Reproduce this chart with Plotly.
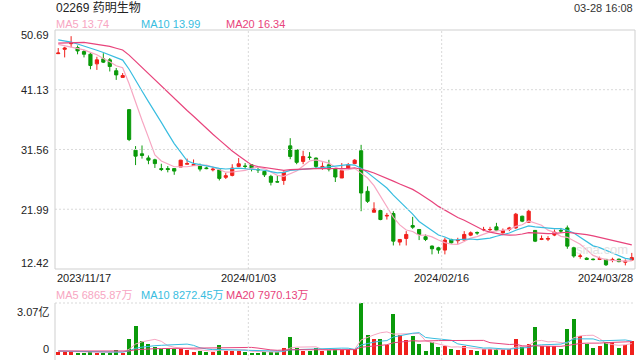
import plotly.graph_objects as go

# ---------------- data ----------------
title_text = "02269 药明生物"
time_text = "03-28 16:08"
date_labels = ["2023/11/17", "2024/01/03", "2024/02/16", "2024/03/28"]
date_label_idx = [0, 29.5, 59.5, 89]
price_ticks = [50.69, 41.13, 31.56, 21.99, 12.42]
vol_max = 30700  # 万 = 3.07亿
vol_tick_labels = ["3.07亿", "0"]
ma_price_labels = ["MA5 13.74", "MA10 13.99", "MA20 16.34"]
ma_vol_labels = ["MA5 6865.87万", "MA10 8272.45万", "MA20 7970.13万"]

# closes/volumes before the first visible day (warm-up for MA lines)
prior_close = [47.5, 47.0, 46.8, 47.2, 47.9, 48.5, 48.8, 49.0, 49.2, 49.1,
               49.6, 50.2, 50.4, 49.8, 49.0, 48.9, 49.2, 48.6, 48.3]
prior_volume = [2600, 2200, 2400, 2800, 2100, 2300, 2500, 2400, 2200, 2600,
                2300, 2500, 2400, 2200, 2700, 2300, 2400, 2100, 2500]

open_ = [46.9, 47.6, 48.5, 47.88, 47.24, 46.81, 45.27, 46.07, 45.91, 44.16,
         43.1, 37.94, 31.45, 30.87, 30.2, 29.9, 28.5, 28.5, 28.5, 28.74,
         29.2, 29.0, 28.9, 28.6, 28.3, 28.3, 27.1, 27.41, 28.85, 28.9,
         29.1, 28.35, 28.05, 27.25, 26.4, 26.6, 32.14, 31.5, 29.65, 30.35,
         30.18, 28.6, 29.1, 28.42, 26.99, 28.6, 29.3, 31.35, 24.86, 21.51,
         21.78, 20.9, 21.3, 16.73, 17.31, 19.38, 18.75, 17.58, 16.09, 15.82,
         15.45, 17.15, 16.95, 17.05, 17.84, 18.25, 18.7, 18.7, 19.17, 18.2,
         18.75, 19.0, 20.87, 19.9, 18.6, 17.15, 17.2, 17.85, 18.6, 19.0,
         15.82, 14.45, 14.15, 14.0, 13.96, 13.96, 13.8, 14.0, 13.5, 13.85]
high = [47.8, 48.0, 49.7, 48.2, 47.5, 47.0, 46.4, 46.97, 46.2, 44.6,
        43.8, 38.0, 32.1, 32.2, 30.6, 30.07, 29.27, 28.9, 28.5, 29.9,
        30.1, 29.96, 29.3, 28.8, 28.7, 28.42, 27.8, 29.2, 30.18, 29.38,
        29.2, 28.7, 28.15, 27.5, 27.36, 28.05, 33.37, 31.6, 31.35, 31.13,
        30.28, 29.5, 29.9, 28.58, 29.38, 29.4, 30.0, 32.3, 25.66, 23.1,
        21.94, 21.4, 21.67, 17.15, 18.48, 20.77, 18.75, 17.95, 16.19, 15.98,
        17.42, 17.26, 17.42, 18.48, 18.43, 18.43, 19.17, 19.17, 19.81, 18.9,
        19.17, 21.4, 20.95, 21.94, 18.64, 17.79, 17.68, 18.75, 19.0, 19.38,
        15.98, 14.92, 14.3, 14.1, 14.39, 13.96, 14.23, 14.07, 13.96, 15.0]
low = [46.9, 46.3, 47.9, 46.8, 46.3, 44.4, 44.3, 45.4, 44.05, 42.7,
       43.1, 32.9, 29.06, 30.1, 29.2, 28.6, 28.1, 27.9, 27.5, 28.74,
       29.2, 29.0, 28.05, 28.4, 28.05, 26.6, 26.83, 27.25, 28.74, 28.42,
       28.05, 27.8, 27.15, 25.8, 26.3, 25.9, 30.0, 29.2, 29.2, 29.9,
       28.42, 28.3, 28.05, 26.35, 26.99, 28.4, 29.2, 21.67, 23.0, 21.51,
       20.23, 20.34, 16.19, 16.19, 16.19, 18.85, 17.05, 16.89, 14.76, 14.87,
       14.76, 16.51, 16.46, 16.99, 17.68, 17.9, 18.48, 18.48, 18.48, 18.1,
       18.48, 18.85, 19.92, 19.85, 16.73, 17.05, 16.89, 17.68, 18.2, 15.66,
       14.23, 14.07, 13.85, 13.8, 13.85, 12.9, 13.5, 13.5, 13.0, 13.85]
close = [47.0, 47.8, 48.6, 47.34, 46.81, 45.0, 45.91, 45.54, 44.85, 43.5,
         43.4, 33.15, 30.49, 30.6, 29.85, 29.3, 28.35, 28.35, 28.1, 29.85,
         29.3, 29.15, 28.42, 28.5, 28.4, 26.93, 27.36, 28.58, 29.27, 28.85,
         28.6, 28.3, 27.5, 26.3, 26.35, 27.9, 30.44, 29.5, 30.44, 30.28,
         28.85, 28.85, 28.42, 27.15, 28.16, 29.1, 29.85, 24.59, 23.26, 22.04,
         20.34, 21.0, 16.88, 17.15, 17.95, 19.12, 17.95, 17.15, 15.66, 15.45,
         17.05, 16.62, 17.05, 17.95, 18.21, 18.2, 18.75, 18.75, 18.64, 18.6,
         19.0, 21.2, 20.08, 21.67, 16.88, 17.26, 17.3, 18.32, 18.5, 16.08,
         14.5, 14.5, 13.96, 13.93, 14.07, 13.1, 13.95, 13.6, 13.65, 14.25]
volume = [1980, 1980, 1980, 1390, 1390, 1580, 1390, 1390, 1580, 2970,
          1390, 9510, 16840, 8320, 6540, 4950, 3760, 3960, 3760, 3760,
          2970, 1980, 2380, 1980, 1980, 5940, 2570, 2570, 2570, 1980,
          1390, 1390, 1780, 1980, 1980, 3960, 10900, 4360, 2380, 2380,
          4160, 2630, 3030, 3430, 3430, 3430, 3430, 30700, 12100, 9700,
          9700, 6060, 24200, 12100, 9090, 11500, 6670, 2420, 7470, 4850,
          5050, 3640, 3030, 5450, 3030, 2420, 3430, 3430, 3430, 3430,
          3430, 9700, 4650, 6670, 16560, 5450, 5450, 5450, 3640, 15150,
          21200, 11100, 6670, 4240, 5050, 7470, 7470, 4240, 6060, 8480]

# ---------------- styling ----------------
RED = "#f0201c"
GREEN = "#0a9a0a"
C_MA5 = "#f7a6c2"
C_MA10 = "#38bde0"
C_MA20 = "#e8447c"
FONT = "Arial, Liberation Sans, Noto Sans CJK SC, sans-serif"

W, H = 640, 360
L, R = 55, 635
MAIN_T, MAIN_B = 30, 269
VOL_T, VOL_B = 303, 355


def px(x, y):
    return x / W, 1 - y / H


def moving_avg(prior, vals, n):
    full = list(prior) + list(vals)
    off = len(prior)
    out = []
    for i in range(len(vals)):
        j = off + i
        window = full[max(0, j - n + 1): j + 1]
        out.append(sum(window) / len(window))
    return out


idx = list(range(len(close)))
ma5 = moving_avg(prior_close, close, 5)
ma10 = moving_avg(prior_close, close, 10)
ma20 = moving_avg(prior_close, close, 20)
vma5 = moving_avg(prior_volume, volume, 5)
vma10 = moving_avg(prior_volume, volume, 10)
vma20 = moving_avg(prior_volume, volume, 20)
vol_colors = [RED if c >= o else GREEN for o, c in zip(open_, close)]

fig = go.Figure()

fig.add_trace(go.Candlestick(
    x=idx, open=open_, high=high, low=low, close=close,
    increasing=dict(line=dict(color=RED, width=1), fillcolor=RED),
    decreasing=dict(line=dict(color=GREEN, width=1), fillcolor=GREEN),
    whiskerwidth=0, xaxis="x", yaxis="y", showlegend=False,
))
for vals, col in [(ma5, C_MA5), (ma10, C_MA10), (ma20, C_MA20)]:
    fig.add_trace(go.Scatter(x=idx, y=vals, mode="lines",
                             line=dict(color=col, width=1.2),
                             xaxis="x", yaxis="y", showlegend=False,
                             hoverinfo="skip"))

fig.add_trace(go.Bar(x=idx, y=volume, marker=dict(color=vol_colors, line=dict(width=0)),
                     width=0.62, xaxis="x2", yaxis="y2", showlegend=False))
for vals, col in [(vma5, C_MA5), (vma10, C_MA10), (vma20, C_MA20)]:
    fig.add_trace(go.Scatter(x=idx, y=vals, mode="lines",
                             line=dict(color=col, width=1),
                             xaxis="x2", yaxis="y2", showlegend=False,
                             hoverinfo="skip"))

xdom = [L / W, R / W]
main_dom = [1 - MAIN_B / H, 1 - MAIN_T / H]
vol_dom = [1 - VOL_B / H, 1 - VOL_T / H]

axis_common = dict(showgrid=False, zeroline=False, showticklabels=False,
                   showline=False, ticks="")
fig.update_layout(
    width=W, height=H, autosize=False,
    margin=dict(l=0, r=0, t=0, b=0),
    paper_bgcolor="white", plot_bgcolor="white",
    font=dict(family=FONT, color="#333333"),
    bargap=0,
    xaxis=dict(domain=xdom, range=[-0.5, len(close) - 0.5],
               rangeslider=dict(visible=False), anchor="y", **axis_common),
    yaxis=dict(domain=main_dom, range=[price_ticks[-1], price_ticks[0]],
               anchor="x", **axis_common),
    xaxis2=dict(domain=xdom, range=[-0.5, len(close) - 0.5], anchor="y2",
                **axis_common),
    yaxis2=dict(domain=vol_dom, range=[0, vol_max], anchor="x2",
                **axis_common),
)

shapes = []
GRID = "#d9d9d9"
# horizontal dotted grid lines in main panel
for p in price_ticks[1:-1]:
    shapes.append(dict(type="line", xref="paper", yref="y",
                       x0=L / W, x1=R / W, y0=p, y1=p,
                       line=dict(color=GRID, width=1, dash="2px,2px")))
# vertical dotted date lines
for xi in date_label_idx[1:3]:
    shapes.append(dict(type="line", xref="x", yref="paper",
                       x0=xi, x1=xi, y0=main_dom[0], y1=main_dom[1],
                       line=dict(color=GRID, width=1, dash="2px,2px")))
    shapes.append(dict(type="line", xref="x2", yref="paper",
                       x0=xi, x1=xi, y0=0, y1=vol_dom[1],
                       line=dict(color=GRID, width=1, dash="2px,2px")))
# main frame
shapes.append(dict(type="rect", xref="paper", yref="paper",
                   x0=L / W, x1=R / W, y0=main_dom[0], y1=main_dom[1],
                   line=dict(color="#cfcfcf", width=1), fillcolor="rgba(0,0,0,0)"))
# volume top dotted line and left axis line
shapes.append(dict(type="line", xref="paper", yref="paper",
                   x0=L / W, x1=R / W, y0=vol_dom[1], y1=vol_dom[1],
                   line=dict(color=GRID, width=1, dash="2px,2px")))
shapes.append(dict(type="line", xref="paper", yref="paper",
                   x0=L / W, x1=L / W, y0=0, y1=vol_dom[1],
                   line=dict(color="#cfcfcf", width=1)))
fig.update_layout(shapes=shapes)

ann = []


def text(s, x, y, size=11, color="#333333", xanchor="left"):
    xx, yy = px(x, y)
    ann.append(dict(text=s, x=xx, y=yy, xref="paper", yref="paper",
                    xanchor=xanchor, yanchor="middle", showarrow=False,
                    font=dict(size=size, color=color, family=FONT)))


text(title_text, 54, 8, size=12, color="#222222")
text(time_text, 635, 8, size=11, color="#333333", xanchor="right")
for s, x, col in zip(ma_price_labels, [54, 139, 224], [C_MA5, C_MA10, C_MA20]):
    text(s, x, 24, size=11, color=col)
for s, x, col in zip(ma_vol_labels, [54, 139, 224], [C_MA5, C_MA10, C_MA20]):
    text(s, x, 295, size=11, color=col)

ylab_pos = [35, 89.5, 150, 209.5, 263]
for p, y in zip(price_ticks, ylab_pos):
    text(f"{p:.2f}", 51, y, size=11, color="#222222", xanchor="right")
text(vol_tick_labels[0], 51, 312, size=11, color="#222222", xanchor="right")
text(vol_tick_labels[1], 51, 348.5, size=11, color="#222222", xanchor="right")

date_x = [L, L + (29.5 + 0.5) * (R - L) / 90, L + (59.5 + 0.5) * (R - L) / 90, R]
anchors = ["left", "center", "center", "right"]
for s, x, a in zip(date_labels, date_x, anchors):
    text(s, x, 277.5, size=11, color="#222222", xanchor=a)

text("sina.com", 602, 249, size=13, color="#e2e2e2", xanchor="center")
fig.update_layout(annotations=ann)

fig.write_html("out.html")
